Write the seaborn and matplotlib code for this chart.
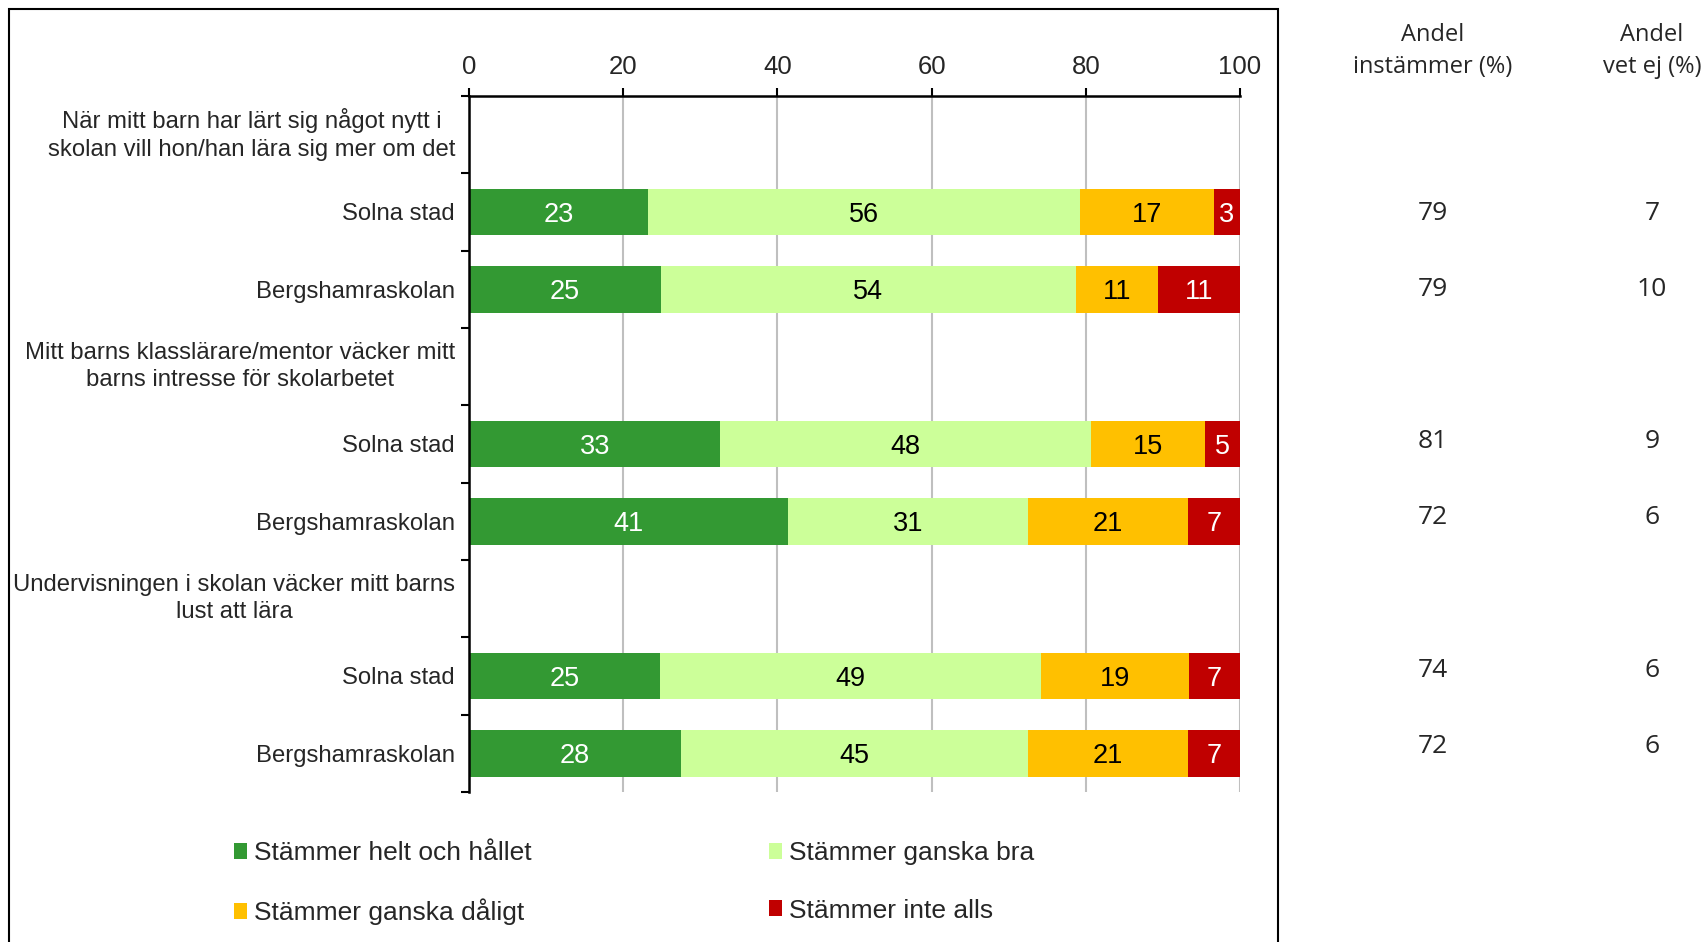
import numpy as np
import pandas as pd
import matplotlib
matplotlib.use("Agg")
import matplotlib.pyplot as plt
import matplotlib.transforms as mtransforms
from matplotlib.patches import Patch, Rectangle
import seaborn as sns

nan = np.nan

# ---------------- data ----------------
row_labels = [
    "När mitt barn har lärt sig något nytt i\nskolan vill hon/han lära sig mer om det",
    "Solna stad",
    "Bergshamraskolan",
    "Mitt barns klasslärare/mentor väcker mitt\nbarns intresse för skolarbetet",
    "Solna stad",
    "Bergshamraskolan",
    "Undervisningen i skolan väcker mitt barns\nlust att lära",
    "Solna stad",
    "Bergshamraskolan",
]
series_names = ["Stämmer helt och hållet", "Stämmer ganska bra",
                "Stämmer ganska dåligt", "Stämmer inte alls"]
helt = [nan, 23.2, 24.9, nan, 32.6, 41.4, nan, 24.8, 27.5]
bra = [nan, 56.0, 53.8, nan, 48.1, 31.1, nan, 49.4, 45.0]
daligt = [nan, 17.4, 10.6, nan, 14.7, 20.7, nan, 19.2, 20.7]
inte = [nan, 3.4, 10.7, nan, 4.6, 6.8, nan, 6.6, 6.8]
andel_instammer = [None, "79", "79", None, "81", "72", None, "74", "72"]
andel_vet_ej = [None, "7", "10", None, "9", "6", None, "6", "6"]
x_ticks = [0, 20, 40, 60, 80, 100]

colors = ["#339933", "#CCFF99", "#FFC000", "#C00000"]
text_colors = ["white", "black", "black", "white"]

# ---------------- styling ----------------
sns.set_theme(style="white")
plt.rcParams["font.family"] = ["Liberation Sans", "DejaVu Sans"]

W, H = 1705, 942
fig = plt.figure(figsize=(W / 100, H / 100), dpi=100)
ax = fig.add_axes([469 / W, 1 - 792 / H, (1240 - 469) / W, (792 - 96) / H])

keys = [f"r{i}" for i in range(len(row_labels))]
series = [helt, bra, daligt, inte]
df = pd.DataFrame({"key": keys})
cum = np.zeros(len(keys))
starts = []
for name, vals in zip(series_names, series):
    v = np.array(vals, dtype=float)
    starts.append(cum.copy())
    cum = cum + np.nan_to_num(v)
    df[name] = np.where(np.isnan(v), np.nan, cum)

# draw cumulative bars from the end backwards
for name, c in reversed(list(zip(series_names, colors))):
    sns.barplot(data=df, y="key", x=name, order=keys, orient="h", color=c,
                width=0.6, saturation=1, errorbar=None, ax=ax,
                linewidth=0, zorder=2)

# segment labels
for s_idx, vals in enumerate(series):
    for i, v in enumerate(vals):
        if np.isnan(v):
            continue
        ax.text(starts[s_idx][i] + v / 2, i, f"{v:.0f}", ha="center",
                va="center_baseline", fontsize=19.5,
                color=text_colors[s_idx], zorder=4)

# axes
ax.set_xlim(0, 100)
ax.set_ylim(len(keys) - 0.5, -0.5)
ax.set_xlabel("")
ax.set_ylabel("")
ax.xaxis.tick_top()
ax.set_xticks(x_ticks)
ax.set_xticklabels([str(t) for t in x_ticks], fontsize=18.5)
ax.tick_params(axis="x", which="major", direction="out", length=6, width=1.5,
               color="black", pad=6, top=True, bottom=False)
ax.grid(axis="x", color="#BFBFBF", linewidth=1.5)
ax.grid(axis="y", visible=False)
ax.set_axisbelow(True)

ax.set_yticks(range(len(keys)))
ax.set_yticklabels(row_labels, fontsize=17.2)
for lbl in ax.get_yticklabels():
    if "\n" in lbl.get_text():
        lbl.set_multialignment("center")
        lbl.set_verticalalignment("center")
        lbl.set_linespacing(1.32)
ax.set_yticks(np.arange(-0.5, len(keys), 1.0), minor=True)
ax.tick_params(axis="y", which="major", length=0, pad=10)
ax.tick_params(axis="y", which="minor", direction="out", length=6, width=1.5,
               color="black", left=True)

for side in ["right", "bottom"]:
    ax.spines[side].set_visible(False)
for side in ["top", "left"]:
    ax.spines[side].set_visible(True)
    ax.spines[side].set_color("black")
    ax.spines[side].set_linewidth(1.8)

# right-hand columns
blend = mtransforms.blended_transform_factory(fig.transFigure, ax.transData)
col_font = ["Open Sans", "DejaVu Sans"]
for i in range(len(keys)):
    yoff = i - 0.0165 * i
    if andel_instammer[i] is not None:
        fig.text(1433 / W, yoff, andel_instammer[i], transform=blend,
                 ha="center", va="center_baseline", fontsize=19,
                 family=col_font)
    if andel_vet_ej[i] is not None:
        fig.text(1652 / W, yoff, andel_vet_ej[i], transform=blend,
                 ha="center", va="center_baseline", fontsize=19,
                 family=col_font)
fig.text(1433 / W, 1 - 51 / H, "Andel\ninstämmer (%)", ha="center",
         va="center", fontsize=17, family=col_font, linespacing=1.43)
fig.text(1652 / W, 1 - 51 / H, "Andel\nvet ej (%)", ha="center",
         va="center", fontsize=17, family=col_font, linespacing=1.43)

# legend (row-wise order as in the original)
order = [0, 2, 1, 3]
handles = [Patch(facecolor=colors[k], edgecolor="none") for k in order]
labels = [series_names[k] for k in order]
fig.legend(handles, labels, ncol=2, loc="upper left",
           bbox_to_anchor=(234 / W, 1 - 841 / H), frameon=False,
           fontsize=19, handlelength=0.5, handleheight=0.55,
           handletextpad=0.25, columnspacing=9.0, labelspacing=1.27,
           borderpad=0, borderaxespad=0)

# chart frame
fig.add_artist(Rectangle((9 / W, -0.05), (1278 - 9) / W, 1.05 - 9 / H,
                         transform=fig.transFigure, fill=False,
                         edgecolor="black", linewidth=1.5))

fig.savefig("out.png", dpi=100)
